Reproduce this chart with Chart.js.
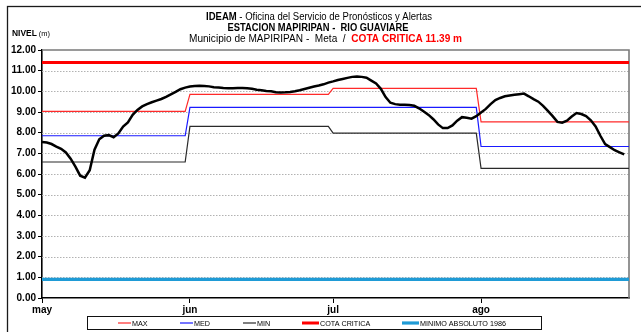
<!DOCTYPE html>
<html>
<head>
<meta charset="utf-8">
<script src="https://cdn.jsdelivr.net/npm/chart.js@4/dist/chart.umd.min.js"></script>
<style>
  html, body { margin: 0; padding: 0; background: #fff; }
  #wrap { width: 641px; height: 332px; position: relative; }
  canvas { display: block; }
</style>
</head>
<body>
<div id="wrap"><canvas id="c" width="641" height="332" style="width:641px;height:332px"></canvas></div>
<script>
// Month ticks of the x axis (day index counted from 1 May)
const monthLabels = ['may', 'jun', 'jul', 'ago'];
const monthStartDay = [0, 31, 61, 92];
const lastDay = 123;

// Historical monthly levels (m)
const maxByMonth = [9.03, 9.85, 10.14, 8.52];
const medByMonth = [7.85, 9.22, 9.22, 7.33];
const minByMonth = [6.58, 8.30, 7.98, 6.27];

// Reference levels (m)
const cotaCritica = 11.39;
const minimoAbsoluto1986 = 0.90;

// Daily observed level (m), 1 May onward
const nivelDiario = [
  7.55, 7.52, 7.45, 7.33, 7.22, 7.04, 6.74, 6.36, 5.92, 5.82,
  6.18, 7.18, 7.68, 7.85, 7.88, 7.78, 7.96, 8.30, 8.50, 8.86,
  9.10, 9.27, 9.38, 9.47, 9.55, 9.63, 9.73, 9.85, 9.97, 10.10,
  10.18, 10.23, 10.26, 10.27, 10.26, 10.24, 10.20, 10.18, 10.16, 10.15,
  10.15, 10.16, 10.16, 10.15, 10.12, 10.08, 10.05, 10.02, 10.00, 9.96,
  9.94, 9.95, 9.97, 10.00, 10.05, 10.11, 10.17, 10.23, 10.28, 10.34,
  10.42, 10.48, 10.55, 10.60, 10.65, 10.70, 10.72, 10.70, 10.66, 10.52,
  10.38, 10.12, 9.72, 9.45, 9.38, 9.35, 9.35, 9.34, 9.30, 9.18,
  9.02, 8.86, 8.65, 8.40, 8.22, 8.22, 8.35, 8.58, 8.75, 8.72,
  8.68, 8.80, 8.98, 9.15, 9.38, 9.58, 9.68, 9.76, 9.80, 9.83,
  9.86, 9.89, 9.76, 9.62, 9.50, 9.30, 9.05, 8.80, 8.52, 8.48,
  8.58, 8.78, 8.95, 8.90, 8.80, 8.60, 8.30, 7.85, 7.45, 7.30,
  7.15, 7.05, 6.95
];

const yTicks = [0, 1, 2, 3, 4, 5, 6, 7, 8, 9, 10, 11, 12];

const FAMILY = "'Liberation Sans', Arial, sans-serif";

// Monthly values become a stepped line: flat over each month, joined day to day
function monthlySteps(values) {
  const pts = [];
  values.forEach((v, i) => {
    const start = monthStartDay[i];
    const end = i < values.length - 1 ? monthStartDay[i + 1] - 1 : lastDay;
    pts.push({ x: start, y: v }, { x: end, y: v });
  });
  return pts;
}
function constantLine(v) {
  return [{ x: 0, y: v }, { x: lastDay, y: v }];
}

const datasets = [
  { label: 'NIVEL', data: nivelDiario.map((v, i) => ({ x: i, y: v })),
    borderColor: '#000', borderWidth: 2.5, order: 0, inLegend: false },
  { label: 'MAX', data: monthlySteps(maxByMonth), borderColor: '#ff2a2a', borderWidth: 1.2, order: 3, inLegend: true, legendLen: 13 },
  { label: 'MED', data: monthlySteps(medByMonth), borderColor: '#1a1aff', borderWidth: 1.2, order: 2, inLegend: true, legendLen: 13 },
  { label: 'MIN', data: monthlySteps(minByMonth), borderColor: '#2a2a2a', borderWidth: 1.2, order: 4, inLegend: true, legendLen: 13 },
  { label: 'COTA CRITICA', data: constantLine(cotaCritica), borderColor: '#ff0000', borderWidth: 3, order: 5, inLegend: true, legendLen: 17 },
  { label: 'MINIMO ABSOLUTO 1986', data: constantLine(minimoAbsoluto1986), borderColor: '#1f9bd6', borderWidth: 3.2, order: 6, inLegend: true, legendLen: 17 }
];
datasets.forEach(d => { d.pointRadius = 0; d.tension = 0; d.fill = false; });

// Text runs with mixed weight/colour, centred and fitted to a width
function drawRuns(ctx, runs, cx, cy, targetW) {
  let total = 0;
  runs.forEach(r => { ctx.font = r.font; r.w = ctx.measureText(r.text).width; total += r.w; });
  const sx = targetW ? targetW / total : 1;
  ctx.save();
  ctx.translate(cx - (total * sx) / 2, cy);
  ctx.scale(sx, 1);
  ctx.textBaseline = 'middle';
  ctx.textAlign = 'left';
  let x = 0;
  runs.forEach(r => {
    ctx.font = r.font; ctx.fillStyle = r.color || '#000';
    ctx.fillText(r.text, x, 0);
    x += r.w;
  });
  ctx.restore();
}

const decor = {
  id: 'decor',
  beforeDraw(chart) {
    const ctx = chart.ctx;
    ctx.save();
    ctx.fillStyle = '#fff';
    ctx.fillRect(0, 0, chart.width, chart.height);
    // outer frame
    ctx.strokeStyle = '#1a1a1a';
    ctx.lineWidth = 1.3;
    ctx.strokeRect(7.5, 6.5, 1000, 1000);
    ctx.restore();

    // headings
    const b = s => `bold ${s}px ${FAMILY}`;
    const n = s => `${s}px ${FAMILY}`;
    drawRuns(ctx, [
      { text: 'IDEAM', font: b(10) },
      { text: ' - Oficina del Servicio de Pronósticos y Alertas', font: n(10) }
    ], 319, 17.5, 226);
    drawRuns(ctx, [
      { text: 'ESTACION MAPIRIPAN -  RIO GUAVIARE', font: b(10) }
    ], 318, 28.5, 181);
    drawRuns(ctx, [
      { text: 'Municipio de MAPIRIPAN -  Meta  /  ', font: n(10) },
      { text: `COTA CRITICA ${cotaCritica.toFixed(2)} m`, font: b(10), color: '#ff0000' }
    ], 325.5, 39.5, 273);
    drawRuns(ctx, [
      { text: 'NIVEL', font: b(8.5) },
      { text: ' (m)', font: n(7.5) }
    ], 31, 33.5, 38);
  },
  beforeDatasetsDraw(chart) {
    const ctx = chart.ctx;
    const a = chart.chartArea;
    const y = chart.scales.y;
    ctx.save();
    // dotted horizontal grid
    ctx.strokeStyle = '#b2b2b2';
    ctx.lineWidth = 1;
    ctx.setLineDash([1.5, 1.5]);
    yTicks.forEach(v => {
      if (v <= 0 || v >= 12) return;
      const py = Math.round(y.getPixelForValue(v)) + 0.5;
      ctx.beginPath();
      ctx.moveTo(a.left, py);
      ctx.lineTo(a.right, py);
      ctx.stroke();
    });
    ctx.setLineDash([]);
    // top and right edges of the plot area
    ctx.strokeStyle = '#7a7a7a';
    ctx.lineWidth = 1.6;
    ctx.beginPath();
    ctx.moveTo(a.left, a.top);
    ctx.lineTo(a.right, a.top);
    ctx.lineTo(a.right, a.bottom);
    ctx.stroke();
    ctx.restore();
  },
  afterDraw(chart) {
    const ctx = chart.ctx;
    // legend box
    const bx = 87, by = 316, bw = 454, bh = 13;
    ctx.save();
    ctx.strokeStyle = '#111';
    ctx.lineWidth = 1;
    ctx.strokeRect(bx + 0.5, by + 0.5, bw, bh);
    const slots = [118, 180, 243, 302, 402];
    const cy = by + bh / 2 + 0.5;
    chart.data.datasets.filter(d => d.inLegend).forEach((d, i) => {
      const x0 = slots[i];
      ctx.strokeStyle = d.borderColor;
      ctx.lineWidth = d.borderWidth;
      ctx.beginPath();
      ctx.moveTo(x0, cy);
      ctx.lineTo(x0 + d.legendLen, cy);
      ctx.stroke();
      ctx.save();
      ctx.translate(x0 + d.legendLen + 1, cy);
      ctx.scale(0.9, 1);
      ctx.font = `8px ${FAMILY}`;
      ctx.fillStyle = '#000';
      ctx.textBaseline = 'middle';
      ctx.textAlign = 'left';
      ctx.fillText(d.label, 0, 0.5);
      ctx.restore();
    });
    ctx.restore();
  }
};

new Chart(document.getElementById('c'), {
  type: 'line',
  data: { datasets },
  options: {
    responsive: false,
    animation: false,
    devicePixelRatio: 1,
    parsing: false,
    layout: { padding: { left: 0, top: 50, right: 12, bottom: 0 } },
    plugins: { legend: { display: false }, tooltip: { enabled: false }, title: { display: false } },
    scales: {
      x: {
        type: 'linear',
        min: 0,
        max: lastDay,
        afterBuildTicks: s => { s.ticks = monthStartDay.map(v => ({ value: v })); },
        afterFit: s => { s.height = 34; },
        ticks: {
          autoSkip: false,
          maxRotation: 0,
          padding: 1,
          color: '#000',
          font: { family: FAMILY, size: 10, weight: 'bold' },
          callback: v => monthLabels[monthStartDay.indexOf(v)]
        },
        grid: { drawOnChartArea: false, drawTicks: true, tickLength: 5, tickColor: '#000', tickWidth: 1 },
        border: { display: true, color: '#000', width: 1.6 }
      },
      y: {
        min: 0,
        max: 12,
        afterBuildTicks: s => { s.ticks = yTicks.map(v => ({ value: v })); },
        afterFit: s => { s.width = 42; },
        ticks: {
          padding: 2,
          color: '#000',
          font: { family: FAMILY, size: 10, weight: 'bold' },
          callback: v => Number(v).toFixed(2)
        },
        grid: { drawOnChartArea: false, drawTicks: true, tickLength: 4, tickColor: '#000', tickWidth: 1 },
        border: { display: true, color: '#000', width: 1.6 }
      }
    }
  },
  plugins: [decor]
});
</script>
</body>
</html>
